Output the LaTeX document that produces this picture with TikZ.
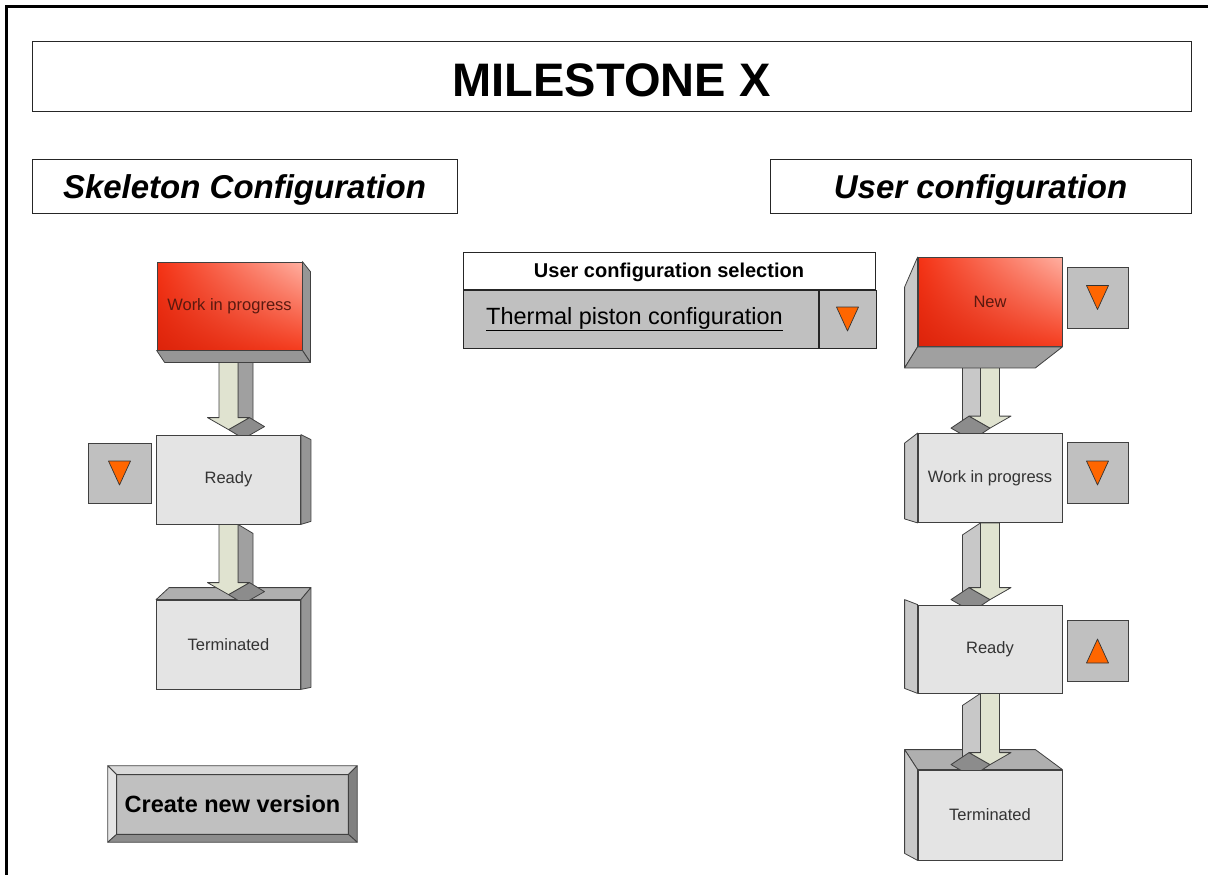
\documentclass[tikz,border=0pt]{standalone}
\usepackage{fontspec}
\setmainfont{Liberation Sans}
\usetikzlibrary{calc,shadings}
\pgfdeclarelayer{bg}
\pgfsetlayers{bg,main}

\definecolor{boxfront}{RGB}{228,228,228}
\definecolor{sidedark}{RGB}{150,150,150}
\definecolor{sidelight}{RGB}{200,200,200}
\definecolor{bottomdark}{RGB}{160,160,160}
\definecolor{topface}{RGB}{175,175,175}
\definecolor{arrowfront}{RGB}{224,227,208}
\definecolor{arrsideL}{RGB}{160,160,160}
\definecolor{arrsideR}{RGB}{200,200,200}
\definecolor{arrowhead}{RGB}{140,140,140}
\definecolor{orangetri}{RGB}{255,102,0}
\definecolor{widget}{RGB}{192,192,192}
\definecolor{redA}{RGB}{245,50,20}
\definecolor{redB}{RGB}{255,175,160}
\definecolor{redC}{RGB}{220,35,10}
\definecolor{redD}{RGB}{245,60,30}
\definecolor{redtxt}{RGB}{90,25,15}

% block arrow: [side colour]{from}{to}{side sign}{depth x}{depth y}
\newcommand{\blockarrow}[6][arrsideL]{%
  \coordinate (aT) at (#3.north |- #2.south);
  \coordinate (aP) at ($(#3.north)+(0,-5)$);
  \filldraw[face, fill=#1] ($(aT)+({#4*9.5},0)$) -- ($(aP)+({#4*9.5},-12)$)
    -- ($(aP)+({#4*9.5+(#5)},{-12+(#6)})$) -- ($(aT)+({#4*9.5+(#5)},{#6})$) -- cycle;
  \filldraw[arrhead] ($(aP)+({#4*21},-12)$) -- (aP) -- ($(aP)+({#5},{#6})$)
    -- ($(aP)+({#4*21+(#5)},{-12+(#6)})$) -- cycle;
  \filldraw[arrfront] ($(aT)+(-9.5,0)$) -- ($(aP)+(-9.5,-12)$) -- ($(aP)+(-21,-12)$)
    -- (aP) -- ($(aP)+(21,-12)$) -- ($(aP)+(9.5,-12)$) -- ($(aT)+(9.5,0)$) -- cycle;
}

\begin{document}
\begin{tikzpicture}[x=1pt, y=-1pt,
    frame/.style={draw=black!85, line width=1pt, inner sep=0pt},
    subhead/.style={frame, minimum height=54pt, text height=31pt, text depth=7pt,
      font=\bfseries\itshape\fontsize{33}{36}\selectfont},
    gbox/.style={draw=black!75, line width=0.8pt, fill=boxfront, minimum width=144pt,
      minimum height=89pt, inner sep=0pt, text=black!80, font=\fontsize{16.5}{19}\selectfont},
    rbox/.style={gbox, upper left=redA, upper right=redB, lower left=redC,
      lower right=redD, text=redtxt},
    face/.style={draw=black!75, line width=0.8pt, line join=round},
    dropbox/.style={draw=black!75, line width=0.8pt, fill=widget, minimum width=61pt,
      minimum height=61pt, inner sep=0pt},
    tri/.style={draw=black!80, line width=0.7pt, fill=orangetri, line join=round},
    arrfront/.style={face, fill=arrowfront},
    arrhead/.style={face, fill=arrowhead}]
    \useasboundingbox (0,0) rectangle (1208,875);
    \draw[line width=3pt] (6,875) -- (6,7) -- (1208,7);

    % headings
    \node[frame, minimum width=1159pt, minimum height=69pt, text height=39pt, text depth=0pt,
      font=\bfseries\fontsize{47}{50}\selectfont] (title) at (611.5,76.5) {MILESTONE X};
    \node[subhead, minimum width=425pt] (skelHead) at (244.5,186) {Skeleton Configuration};
    \node[subhead, minimum width=421pt] (userHead) at (980.5,186) {User configuration};

    % selection widget
    \node[frame, fill=white, minimum width=412pt, minimum height=37pt, text height=18pt, text depth=4pt,
      font=\bfseries\fontsize{20}{22}\selectfont] (selHead) at (669,270.5) {User configuration selection};
    \node[frame, fill=widget, minimum width=355pt, minimum height=58pt, anchor=north west,
      font=\fontsize{23.5}{26}\selectfont] (selVal) at (selHead.south west) {\underline{Thermal piston configuration}\rule{12pt}{0pt}};
    \node[frame, fill=widget, minimum width=57pt, minimum height=58pt, anchor=north west]
      (selDrop) at (selVal.north east) {};

    % skeleton column
    \node[rbox, minimum width=145pt, minimum height=88pt] (wipL) at (229.5,306) {Work in progress};
    \node[gbox] (readyL) at (228.5,479.5) {Ready};
    \node[gbox] (termL) at (228.5,644.5) {Terminated};
    \filldraw[face, fill=sidedark] (wipL.north east) -- ++(8,10) -- ($(wipL.south east)+(8,12)$)
      -- (wipL.south east) -- cycle;
    \filldraw[face, fill=sidedark] (wipL.south west) -- ++(8,12) -- ($(wipL.south east)+(8,12)$)
      -- (wipL.south east) -- cycle;
    \filldraw[face, fill=sidedark] (readyL.north east) -- ++(10,5) -- ($(readyL.south east)+(10,-3)$)
      -- (readyL.south east) -- cycle;
    \filldraw[face, fill=sidedark] (termL.north east) -- ++(10,-12) -- ($(termL.south east)+(10,-2)$)
      -- (termL.south east) -- cycle;

    % user column
    \node[rbox] (newR) at (990,302) {New};
    \node[gbox] (wipR) at (990,478) {Work in progress};
    \node[gbox, minimum height=88pt] (readyR) at (990,649) {Ready};
    \node[gbox, minimum height=90pt] (termR) at (990,815) {Terminated};
    \filldraw[face, fill=sidelight] (newR.north west) -- ++(-13,30) -- ($(newR.south west)+(-13,21)$)
      -- (newR.south west) -- cycle;
    \filldraw[face, fill=bottomdark] (newR.south west) -- ++(-13,21) -- ($(newR.south east)+(-27,21)$)
      -- (newR.south east) -- cycle;
    \filldraw[face, fill=sidelight] (wipR.north west) -- ++(-13,10) -- ($(wipR.south west)+(-13,-4)$)
      -- (wipR.south west) -- cycle;
    \filldraw[face, fill=sidelight] (readyR.north west) -- ++(-13,-5) -- ($(readyR.south west)+(-13,-5)$)
      -- (readyR.south west) -- cycle;
    \filldraw[face, fill=sidelight] (termR.north west) -- ++(-13,-20) -- ($(termR.south west)+(-13,-7)$)
      -- (termR.south west) -- cycle;

    % top faces and arrows behind the boxes
    \begin{pgfonlayer}{bg}
        \filldraw[face, fill=topface] (termL.north west) -- ++(13,-12) -- ($(termL.north east)+(10,-12)$)
          -- (termL.north east) -- cycle;
        \filldraw[face, fill=topface] (termR.north west) -- ++(-13,-20) -- ($(termR.north east)+(-27,-20)$)
          -- (termR.north east) -- cycle;
        \blockarrow{wipL}{readyL}{1}{15}{9}
        \blockarrow{readyL}{termL}{1}{15}{9}
        \blockarrow[arrsideR]{newR}{wipR}{-1}{-18}{12}
        \blockarrow[arrsideR]{wipR}{readyR}{-1}{-18}{12}
        \blockarrow[arrsideR]{readyR}{termR}{-1}{-18}{12}
    \end{pgfonlayer}

    % state pickers
    \node[dropbox, minimum width=63pt, minimum height=60pt] (ddL) at (119.5,473) {};
    \node[dropbox] (ddN) at (1097.5,297.5) {};
    \node[dropbox] (ddW) at (1097.5,473) {};
    \node[dropbox] (ddR) at (1097.5,651) {};
    \foreach \n in {ddL,ddN,ddW,selDrop}{
        \filldraw[tri] ($(\n)+(-11,-12)$) -- ($(\n)+(11,-12)$) -- ($(\n)+(0,12)$) -- cycle;
    }
    \filldraw[tri] ($(ddR)+(-11,12)$) -- ($(ddR)+(11,12)$) -- ($(ddR)+(0,-12)$) -- cycle;

    % button
    \node[fill=widget, minimum width=231pt, minimum height=59pt, inner sep=0pt,
      font=\bfseries\fontsize{23.5}{26}\selectfont] (btnNew) at (232.5,804.5) {Create new version};
    \filldraw[face, fill=black!15] ($(btnNew.north west)+(-9,-9)$) -- ($(btnNew.north east)+(9,-9)$)
      -- (btnNew.north east) -- (btnNew.north west) -- cycle;
    \filldraw[face, fill=black!10] ($(btnNew.north west)+(-9,-9)$) -- (btnNew.north west)
      -- (btnNew.south west) -- ($(btnNew.south west)+(-9,8)$) -- cycle;
    \filldraw[face, fill=black!50] ($(btnNew.north east)+(9,-9)$) -- ($(btnNew.south east)+(9,8)$)
      -- (btnNew.south east) -- (btnNew.north east) -- cycle;
    \filldraw[face, fill=black!45] ($(btnNew.south west)+(-9,8)$) -- ($(btnNew.south east)+(9,8)$)
      -- (btnNew.south east) -- (btnNew.south west) -- cycle;
    \draw[face] (btnNew.north west) rectangle (btnNew.south east);
\end{tikzpicture}
\end{document}
